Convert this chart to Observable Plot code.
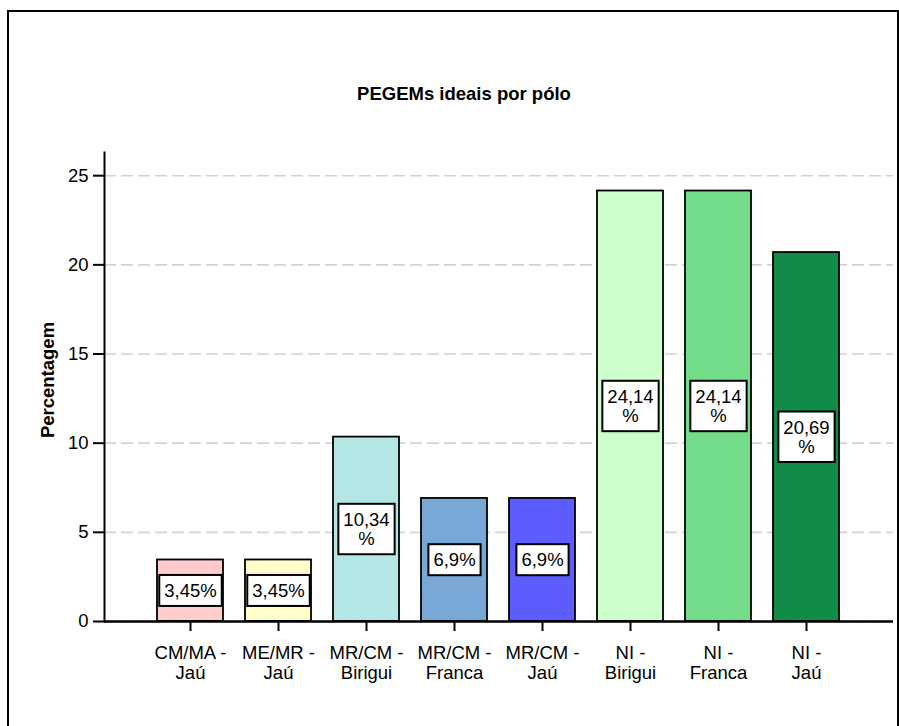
<!DOCTYPE html>
<html>
<head>
<meta charset="utf-8">
<script src="https://cdn.jsdelivr.net/npm/d3@7"></script>
<script src="https://cdn.jsdelivr.net/npm/@observablehq/plot@0.6"></script>
<style>
  body { margin: 0; background: #fff; }
  #page { position: relative; width: 899px; height: 726px; overflow: hidden; font-family: "Liberation Sans", Arial, sans-serif; color: #000; }
  #frame { position: absolute; left: 7px; top: 10px; width: 888px; height: 800px; border: 2px solid #000; }
  #title { position: absolute; left: 264px; width: 400px; top: 83px; line-height: 22px; text-align: center; font-weight: bold; font-size: 18.5px; }
  #ylab { position: absolute; left: -52px; top: 369px; width: 200px; line-height: 22px; text-align: center; font-weight: bold; font-size: 18.5px; transform: rotate(-90deg); }
  #chart { position: absolute; left: 0; top: 120px; }
</style>
</head>
<body>
<div id="page">
  <div id="frame"></div>
  <div id="title">PEGEMs ideais por pólo</div>
  <div id="ylab">Percentagem</div>
  <div id="chart"></div>
</div>
<script>
// Share of ideal PEGEMs in each pole (percent)
const categories = ["CM/MA - Jaú", "ME/MR - Jaú", "MR/CM - Birigui", "MR/CM - Franca", "MR/CM - Jaú", "NI - Birigui", "NI - Franca", "NI - Jaú"];
const percentages = [3.45, 3.45, 10.34, 6.9, 6.9, 24.14, 24.14, 20.69];
const fills = ["#ffcccc", "#ffffcc", "#b4e6e6", "#79a8d6", "#5c5cff", "#ccffcc", "#73dc88", "#118c48"];
const yTicks = [0, 5, 10, 15, 20, 25];

const rows = categories.map((polo, i) => ({polo, pct: percentages[i]}));

// Portuguese decimal comma; wide values wrap the % sign onto a second line
const pctText = v => {
  const s = String(v).replace(".", ",");
  return s.length > 4 ? s + "\n%" : s + "%";
};

const chart = Plot.plot({
  width: 899,
  height: 606,
  marginTop: 32,
  marginBottom: 105,
  marginLeft: 104,
  marginRight: 6,
  style: {fontFamily: "'Liberation Sans', Arial, sans-serif", fontSize: "18.5px", background: "transparent", color: "#000", overflow: "visible"},
  x: {domain: categories, paddingInner: 0.245, paddingOuter: 0.566},
  y: {domain: [0, 26.3]},
  color: {type: "ordinal", domain: categories, range: fills},
  marks: [
    Plot.gridY(yTicks, {stroke: "#d2d2d2", strokeOpacity: 1, strokeWidth: 1.6, strokeDasharray: "12,5"}),
    Plot.barY(rows, {x: "polo", y: "pct", fill: "polo", stroke: "#000", strokeWidth: 1.8}),
    Plot.text(rows, {x: "polo", y: d => d.pct / 2, text: d => pctText(d.pct), fill: "#000", fontSize: 18.5, lineHeight: 1.05}),
    Plot.ruleY([0], {stroke: "#000", strokeWidth: 2.5}),
    Plot.frame({anchor: "left", stroke: "#000", strokeWidth: 2}),
    Plot.axisY(yTicks, {tickSize: 11, tickPadding: 5, strokeWidth: 2, label: null, fontSize: 18.5}),
    Plot.axisX({tickSize: 10, tickPadding: 14, strokeWidth: 2, label: null, fontSize: 18.5, lineHeight: 1.05, tickFormat: d => d.replace(" - ", " -\n")})
  ]
});

document.getElementById("chart").append(chart);

// White boxes behind the value labels, sized from each label's own extent
const svgNS = "http://www.w3.org/2000/svg";
chart.querySelectorAll('g[aria-label="text"] text').forEach(t => {
  const b = t.getBBox();
  const r = document.createElementNS(svgNS, "rect");
  r.setAttribute("x", b.x - 5);
  r.setAttribute("y", b.y - 5);
  r.setAttribute("width", b.width + 10);
  r.setAttribute("height", b.height + 10);
  r.setAttribute("fill", "#fff");
  r.setAttribute("stroke", "#000");
  r.setAttribute("stroke-width", 2);
  if (t.getAttribute("transform")) r.setAttribute("transform", t.getAttribute("transform"));
  t.parentNode.insertBefore(r, t);
});
</script>
</body>
</html>
